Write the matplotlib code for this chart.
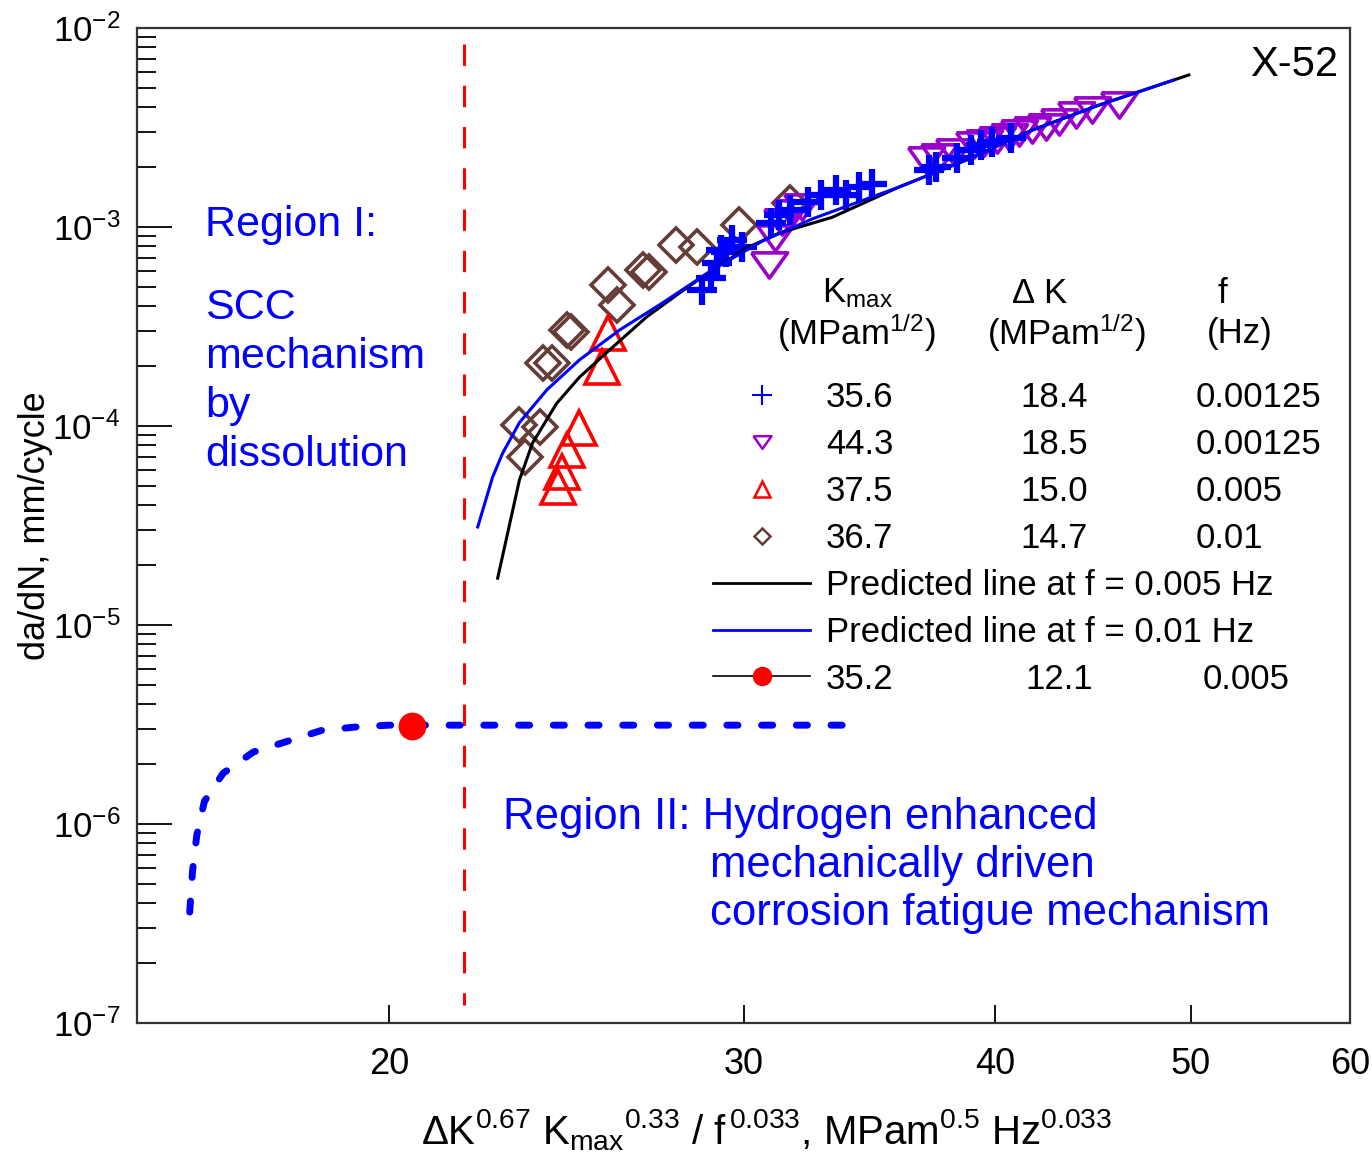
import numpy as np
import matplotlib.pyplot as plt
from matplotlib.lines import Line2D
from matplotlib.ticker import FixedLocator, NullLocator, NullFormatter, FuncFormatter, LogLocator

plt.rcParams['font.family'] = ['Liberation Sans', 'DejaVu Sans']
plt.rcParams['mathtext.fontset'] = 'custom'
plt.rcParams['mathtext.rm'] = 'Liberation Sans'
plt.rcParams['mathtext.it'] = 'Liberation Sans:italic'
plt.rcParams['mathtext.default'] = 'regular'

# crack growth data
plus_x = [28.62, 28.92, 29.09, 29.25, 29.42, 29.59, 29.96, 30.97, 31.25, 31.62, 32.28,
          32.79, 33.35, 33.74, 34.24, 34.75, 37.09, 37.39, 38.29, 38.91, 39.36, 39.86, 40.73]
plus_y = [4.83e-4, 5.54e-4, 6.59e-4, 7.66e-4, 7.49e-4, 8.61e-4, 7.94e-4, 1.05e-3, 1.15e-3,
          1.22e-3, 1.34e-3, 1.45e-3, 1.54e-3, 1.45e-3, 1.59e-3, 1.65e-3, 1.93e-3, 2.00e-3,
          2.22e-3, 2.44e-3, 2.58e-3, 2.67e-3, 2.80e-3]

down_x = [30.90, 31.11, 31.36, 31.72, 32.08, 36.97, 37.52, 38.16, 39.05, 39.49, 40.08,
          40.64, 41.11, 41.73, 42.40, 43.04, 43.88, 44.68, 46.08]
down_y = [6.44e-4, 8.81e-4, 1.06e-3, 1.18e-3, 1.26e-3, 2.17e-3, 2.25e-3, 2.38e-3, 2.58e-3,
          2.64e-3, 2.74e-3, 2.83e-3, 2.97e-3, 3.07e-3, 3.18e-3, 3.37e-3, 3.65e-3, 3.87e-3,
          4.10e-3]

up_x = [25.68, 25.53, 24.87, 24.53, 24.37, 24.26]
up_y = [2.93e-4, 1.98e-4, 9.77e-5, 7.57e-5, 5.87e-5, 4.94e-5]

dia_x = [23.22, 23.36, 23.76, 23.85, 24.09, 24.53, 24.62, 25.68, 25.95, 26.73, 26.94,
         27.78, 28.46, 29.86, 31.62]
dia_y = [1.01e-4, 6.98e-5, 9.89e-5, 2.07e-4, 2.07e-4, 3.04e-4, 2.97e-4, 5.11e-4, 4.06e-4,
         6.08e-4, 5.94e-4, 8.12e-4, 7.94e-4, 1.02e-3, 1.32e-3]

# predicted lines
pred_black_x = [22.65, 23.22, 23.57, 24.23, 24.87, 25.83, 26.85, 27.88, 28.95, 30.10,
                31.25, 33.20, 35.84, 38.69, 41.73, 45.03, 49.90]
pred_black_y = [1.72e-5, 5.35e-5, 8.21e-5, 1.30e-4, 1.76e-4, 2.49e-4, 3.53e-4, 4.66e-4,
                6.08e-4, 7.84e-4, 9.33e-4, 1.12e-3, 1.59e-3, 2.17e-3, 3.07e-3, 4.10e-3, 5.81e-3]
pred_blue_x = [22.14, 22.52, 22.78, 23.22, 23.96, 24.87, 26.04, 27.34, 28.95, 30.65,
               32.46, 35.84, 38.69, 41.73, 45.03, 49.05]
pred_blue_y = [3.11e-5, 5.54e-5, 7.31e-5, 1.04e-4, 1.52e-4, 2.15e-4, 3.04e-4, 4.15e-4,
               6.10e-4, 8.50e-4, 1.10e-3, 1.59e-3, 2.17e-3, 3.07e-3, 4.10e-3, 5.48e-3]

# region boundary (dashed blue) and threshold point
bound_x = [15.93, 15.98, 16.06, 16.20, 16.55, 17.13, 17.82, 18.51, 19.23, 20.0, 34.05]
bound_y = [3.61e-7, 5.74e-7, 8.81e-7, 1.30e-6, 1.80e-6, 2.30e-6, 2.61e-6, 2.95e-6,
           3.07e-6, 3.14e-6, 3.14e-6]
thr_x = [20.53]
thr_y = [3.1e-6]
region_split = 21.8

# legend table
legend_kmax = ['35.6', '44.3', '37.5', '36.7']
legend_dk = ['18.4', '18.5', '15.0', '14.7']
legend_f = ['0.00125', '0.00125', '0.005', '0.01']
pred_labels = ['Predicted line at f = 0.005 Hz', 'Predicted line at f = 0.01 Hz']
thr_kmax, thr_dk, thr_f = '35.2', '12.1', '0.005'

x_ticks = [20, 30, 40, 50, 60]

blue = '#0000FF'
purple = '#9900CC'
red = '#FF0000'
brown = '#663C36'
down_tri = [(-1, 0.7), (1, 0.7), (0, -0.7), (-1, 0.7)]

fig = plt.figure(figsize=(13.72, 11.59), dpi=100)
ax = fig.add_axes([0.0999, 0.1173, 0.8841, 0.8585])
ax.set_xscale('log')
ax.set_yscale('log')

ax.plot(dia_x, dia_y, ls='none', marker='D', ms=17, mfc='none', mec=brown, mew=2.6, zorder=3)
ax.plot(up_x, up_y, ls='none', marker='^', ms=24, mfc='none', mec=red, mew=2.6, zorder=3)
ax.plot(down_x, down_y, ls='none', marker=down_tri, ms=26, mfc='none', mec=purple, mew=2.6, zorder=3)
ax.plot(plus_x, plus_y, ls='none', marker='+', ms=22, mec=blue, mew=4.5, zorder=3)
ax.plot(pred_black_x, pred_black_y, color='k', lw=2.2, zorder=4)
ax.plot(pred_blue_x, pred_blue_y, color=blue, lw=2.2, zorder=4)

ax.plot(bound_x, bound_y, color=blue, lw=5, ls=(0, (1.6, 3.4)), dash_capstyle='round', zorder=3)
ax.plot(thr_x, thr_y, ls='none', marker='o', ms=19, color=red, zorder=4)
ax.axvline(region_split, ymin=0.018, ymax=0.988, color=red, lw=2.2, ls=(3, (7, 6.5)), zorder=2)

ax.set_xlim(15, 60)
ax.set_ylim(1e-7, 1e-2)

ax.xaxis.set_major_locator(FixedLocator(x_ticks))
ax.xaxis.set_minor_locator(NullLocator())
ax.xaxis.set_major_formatter(FuncFormatter(lambda v, p: '%g' % v))
ax.yaxis.set_minor_locator(LogLocator(base=10, subs=np.arange(2, 10), numticks=20))
ax.yaxis.set_minor_formatter(NullFormatter())
ax.tick_params(axis='x', which='major', direction='in', length=13, width=1.3, labelsize=26, pad=17)
ax.tick_params(axis='y', which='major', direction='in', length=25, width=1.3, labelsize=25, pad=12)
ax.tick_params(axis='y', which='minor', direction='in', length=14, width=1.3)
for s in ax.spines.values():
    s.set_linewidth(1.6)
    s.set_color('#333333')

ax.set_ylabel('da/dN, mm/cycle', fontsize=26)
ax.yaxis.set_label_coords(-0.069, 0.5)
ax.set_xlabel(r'$\Delta$K$^{0.67}$ K$_{max}$$^{0.33}$ / f$^{\,0.033}$, MPam$^{0.5}$ Hz$^{0.033}$',
              fontsize=29)
ax.xaxis.set_label_coords(0.519, -0.085)

# annotations
ax.text(0.990, 0.963, 'X-52', transform=ax.transAxes, ha='right', va='center', fontsize=30)
ax.text(0.056, 0.802, 'Region I:', transform=ax.transAxes, color=blue, va='center', fontsize=31)
for i, line in enumerate(['SCC', 'mechanism', 'by', 'dissolution']):
    ax.text(0.056, 0.7186 - i * 0.0492, line, transform=ax.transAxes, color=blue,
            va='center', fontsize=31)
ax.text(0.3017, 0.207, 'Region II: Hydrogen enhanced', transform=ax.transAxes, color=blue,
        va='center', fontsize=31.5)
ax.text(0.4724, 0.1588, 'mechanically driven', transform=ax.transAxes, color=blue,
        va='center', fontsize=31.5)
ax.text(0.4724, 0.1106, 'corrosion fatigue mechanism', transform=ax.transAxes, color=blue,
        va='center', fontsize=31.5)

# legend table
handles = [
    Line2D([], [], ls='none', marker='+', ms=14, mec=blue, mew=1.5),
    Line2D([], [], ls='none', marker=down_tri, ms=13, mfc='none', mec=purple, mew=1.8),
    Line2D([], [], ls='none', marker='^', ms=12, mfc='none', mec=red, mew=1.8),
    Line2D([], [], ls='none', marker='D', ms=8.5, mfc='none', mec=brown, mew=1.8),
    Line2D([], [], color='k', lw=2),
    Line2D([], [], color=blue, lw=2),
    Line2D([], [], color='k', lw=1.2, marker='o', ms=13, mfc=red, mec=red),
]
labels = legend_kmax + pred_labels + [thr_kmax]
leg = ax.legend(handles, labels, loc='upper left', bbox_to_anchor=(0.475, 0.645),
                frameon=False, fontsize=25, handlelength=2.8, handletextpad=0.45,
                labelspacing=0.40, borderpad=0, borderaxespad=0)
texts = leg.get_texts()
for t, d, f in zip(texts[:4], legend_dk, legend_f):
    ax.annotate(d, xy=(0, 0.5), xycoords=t, xytext=(194, 0), textcoords='offset pixels',
                ha='left', va='center', fontsize=25, zorder=6)
    ax.annotate(f, xy=(0, 0.5), xycoords=t, xytext=(370, 0), textcoords='offset pixels',
                ha='left', va='center', fontsize=25, zorder=6)
ax.annotate(thr_dk, xy=(0, 0.5), xycoords=texts[6], xytext=(199, 0), textcoords='offset pixels',
            ha='left', va='center', fontsize=25, zorder=6)
ax.annotate(thr_f, xy=(0, 0.5), xycoords=texts[6], xytext=(377, 0), textcoords='offset pixels',
            ha='left', va='center', fontsize=25, zorder=6)

ax.text(0.5936, 0.7337, 'K$_{max}$', transform=ax.transAxes, ha='center', va='center', fontsize=25)
ax.text(0.5928, 0.6935, '(MPam$^{1/2}$)', transform=ax.transAxes, ha='center', va='center', fontsize=25)
ax.text(0.7444, 0.7337, r'$\Delta$ K', transform=ax.transAxes, ha='center', va='center', fontsize=25)
ax.text(0.7659, 0.6935, '(MPam$^{1/2}$)', transform=ax.transAxes, ha='center', va='center', fontsize=25)
ax.text(0.8945, 0.7337, 'f', transform=ax.transAxes, ha='center', va='center', fontsize=25)
ax.text(0.9093, 0.6935, '(Hz)', transform=ax.transAxes, ha='center', va='center', fontsize=25)

fig.savefig('out.png', dpi=100)
